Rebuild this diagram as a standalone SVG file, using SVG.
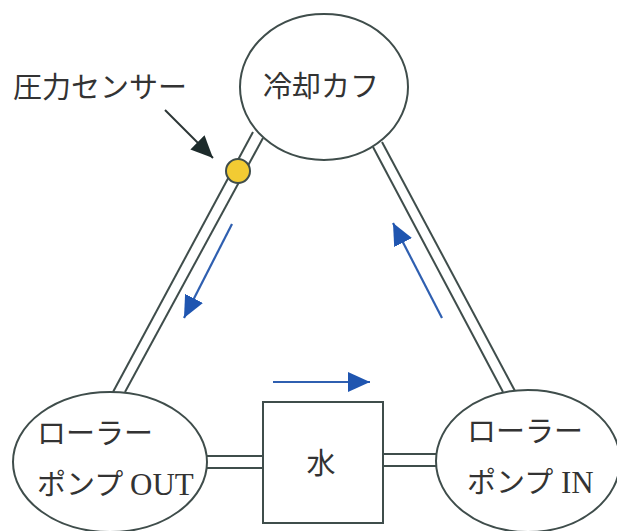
<svg xmlns="http://www.w3.org/2000/svg" width="617" height="531" viewBox="0 0 617 531">
<style>
.node{fill:#fff;stroke:#3f4d4b;stroke-width:2}
.pipe{stroke:#3f4d4b;stroke-width:2;fill:none}
.flow{stroke:#2f5fb0;stroke-width:2.2;fill:none;marker-end:url(#blue)}
.t{font-family:"Noto Sans CJK JP","Noto Sans",sans-serif;fill:#333;font-size:29px}
.lat{font-family:"Liberation Serif",serif;font-size:31px}
</style>
<defs>
<marker id="blue" markerUnits="userSpaceOnUse" markerWidth="24" markerHeight="22" refX="22" refY="10" orient="auto">
<path d="M0,0 L22,10 L0,20 Z" fill="#1f55b0"/>
</marker>
<marker id="dark" markerUnits="userSpaceOnUse" markerWidth="24" markerHeight="22" refX="22" refY="10" orient="auto">
<path d="M0,0 L22,10 L0,20 Z" fill="#1d2b2b"/>
</marker>
</defs>
<g id="connectors">
<line class="pipe" x1="253" y1="132" x2="113" y2="392"/>
<line class="pipe" x1="263" y1="138" x2="125" y2="392"/>
<line class="pipe" x1="373" y1="147" x2="503" y2="392"/>
<line class="pipe" x1="382" y1="142" x2="515" y2="391"/>
<line class="pipe" x1="205" y1="456" x2="263" y2="456"/>
<line class="pipe" x1="205" y1="468" x2="263" y2="468"/>
<line class="pipe" x1="383" y1="454" x2="437" y2="454"/>
<line class="pipe" x1="383" y1="466" x2="437" y2="466"/>
<line class="flow" x1="232" y1="224" x2="184" y2="318"/>
<line class="flow" x1="442" y1="318" x2="393" y2="223"/>
<line class="flow" x1="273" y1="382" x2="370" y2="382"/>
<line x1="165" y1="110" x2="213" y2="158" stroke="#2b3636" stroke-width="2" marker-end="url(#dark)"/>
</g>
<g id="cuff">
<ellipse class="node" cx="324" cy="87" rx="84" ry="73"/>
<text class="t" x="263" y="97" font-size="30">冷却カフ</text>
</g>
<g id="sensor">
<circle cx="238" cy="171" r="12" fill="#f2cb33" stroke="#3f4d4b" stroke-width="2"/>
<text class="t" x="13" y="98" font-size="31">圧力センサー</text>
</g>
<g id="pump-out">
<ellipse class="node" cx="110" cy="462" rx="97" ry="70"/>
<text class="t" x="37" y="444" font-size="28">ローラー</text>
<text class="t" x="37" y="495" font-size="28">ポンプ<tspan class="lat" x="130">OUT</tspan></text>
</g>
<g id="water">
<rect class="node" x="263" y="402" width="120" height="121"/>
<text class="t" x="321" y="474" font-size="27" text-anchor="middle">水</text>
</g>
<g id="pump-in">
<ellipse class="node" cx="528" cy="461" rx="92" ry="71"/>
<text class="t" x="467" y="442" font-size="28">ローラー</text>
<text class="t" x="467" y="493" font-size="28">ポンプ<tspan class="lat" x="561">IN</tspan></text>
</g>
</svg>
